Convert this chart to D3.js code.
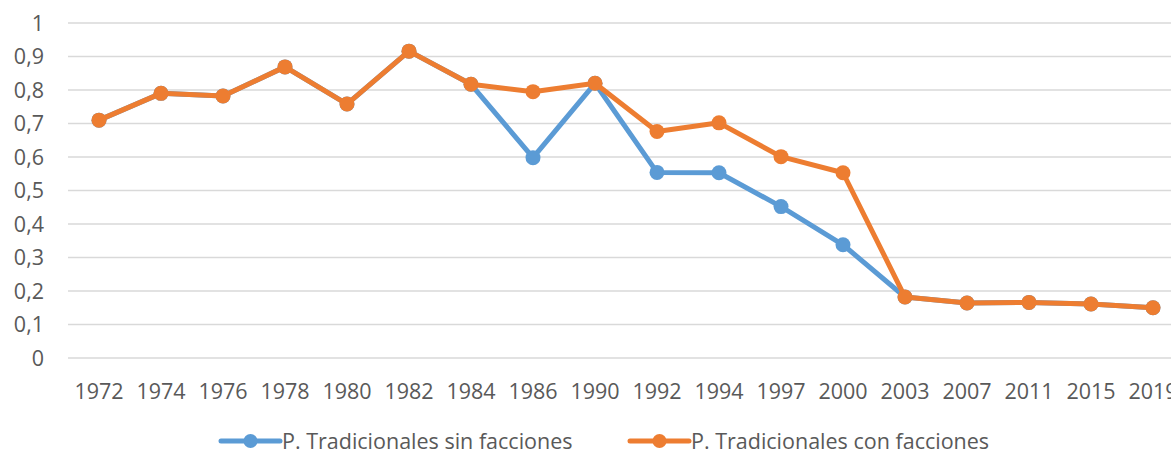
<!DOCTYPE html>
<html>
<head>
<meta charset="utf-8">
<script src="https://cdn.jsdelivr.net/npm/d3@7"></script>
<style>
    body { margin: 0; background: #fff; overflow: hidden; }
    text { font-family: "Open Sans", sans-serif; fill: #595959; }
</style>
</head>
<body>
<script>
// years on the category axis
var years = ["1972", "1974", "1976", "1978", "1980", "1982", "1984", "1986",
    "1990", "1992", "1994", "1997", "2000", "2003", "2007", "2011", "2015",
    "2019"];

// P. Tradicionales sin facciones
var sinFacciones = [0.71, 0.79, 0.782, 0.869, 0.758, 0.916, 0.817, 0.598,
    0.82, 0.554, 0.553, 0.452, 0.338, 0.182, 0.164, 0.166, 0.161, 0.15];

// P. Tradicionales con facciones
var conFacciones = [0.71, 0.79, 0.782, 0.869, 0.758, 0.916, 0.817, 0.795,
    0.82, 0.676, 0.702, 0.601, 0.553, 0.182, 0.164, 0.166, 0.161, 0.15];

var yTicks = [0, 0.1, 0.2, 0.3, 0.4, 0.5, 0.6, 0.7, 0.8, 0.9, 1];

var seriesNames = ["P. Tradicionales sin facciones",
    "P. Tradicionales con facciones"];
var seriesColors = ["#5b9bd5", "#ed7d31"];

var width = 1171,
    height = 454,
    fontSize = "21.5px";

var svg = d3.select("body").append("svg")
    .attr("width", width)
    .attr("height", height);

// plot runs past the right edge like the cropped original
var x = d3.scalePoint()
    .domain(years)
    .range([99, 99 + 62 * (years.length - 1)]);

var y = d3.scaleLinear()
    .domain([0, 1])
    .range([358, 23]);

// gridlines
svg.append("g")
    .selectAll("line")
    .data(yTicks)
    .enter()
    .append("line")
    .attr("x1", 68)
    .attr("x2", width + 20)
    .attr("y1", function(d) { return y(d); })
    .attr("y2", function(d) { return y(d); })
    .attr("stroke", "#d9d9d9")
    .attr("stroke-width", 1.6);

// y labels
svg.append("g")
    .selectAll("text")
    .data(yTicks)
    .enter()
    .append("text")
    .attr("x", 44)
    .attr("y", function(d) { return y(d); })
    .attr("dy", "0.35em")
    .attr("text-anchor", "end")
    .style("font-size", fontSize)
    .text(function(d) { return d3.format(".1~f")(d).replace(".", ","); });

// x labels
svg.append("g")
    .selectAll("text")
    .data(years)
    .enter()
    .append("text")
    .attr("x", function(d) { return x(d); })
    .attr("y", 391)
    .attr("dy", "0.35em")
    .attr("text-anchor", "middle")
    .style("font-size", fontSize)
    .text(function(d) { return d; });

var line = d3.line()
    .x(function(d, i) { return x(years[i]); })
    .y(function(d) { return y(d); });

[sinFacciones, conFacciones].forEach(function(values, k) {
    var g = svg.append("g");
    g.append("path")
        .datum(values)
        .attr("d", line)
        .attr("fill", "none")
        .attr("stroke", seriesColors[k])
        .attr("stroke-width", 5)
        .attr("stroke-linejoin", "round");
    g.selectAll("circle")
        .data(values)
        .enter()
        .append("circle")
        .attr("cx", function(d, i) { return x(years[i]); })
        .attr("cy", function(d) { return y(d); })
        .attr("r", 7.5)
        .attr("fill", seriesColors[k]);
});

// legend
var legendX = [221, 630];
var legend = svg.append("g");
seriesNames.forEach(function(name, k) {
    var lg = legend.append("g")
        .attr("transform", "translate(" + legendX[k] + ",441)");
    lg.append("line")
        .attr("x1", 0)
        .attr("x2", 59)
        .attr("stroke", seriesColors[k])
        .attr("stroke-width", 5)
        .attr("stroke-linecap", "round");
    lg.append("circle")
        .attr("cx", 29.5)
        .attr("r", 7)
        .attr("fill", seriesColors[k]);
    lg.append("text")
        .attr("x", 61)
        .attr("dy", "0.35em")
        .style("font-size", fontSize)
        .text(name);
});
</script>
</body>
</html>
